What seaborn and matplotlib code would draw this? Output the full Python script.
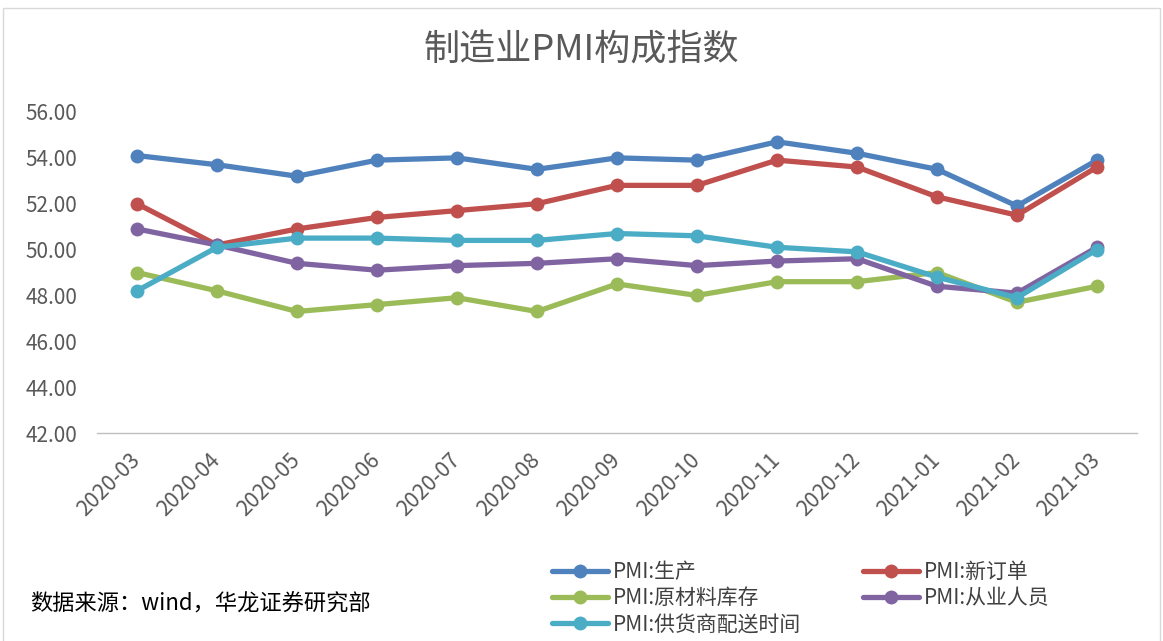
import matplotlib
matplotlib.use("Agg")
import matplotlib.pyplot as plt
import seaborn as sns
import pandas as pd
from matplotlib.patches import Rectangle
from matplotlib.lines import Line2D

months = ["2020-03", "2020-04", "2020-05", "2020-06", "2020-07", "2020-08", "2020-09",
          "2020-10", "2020-11", "2020-12", "2021-01", "2021-02", "2021-03"]
production = [54.1, 53.7, 53.2, 53.9, 54.0, 53.5, 54.0, 53.9, 54.7, 54.2, 53.5, 51.9, 53.9]
new_orders = [52.0, 50.2, 50.9, 51.4, 51.7, 52.0, 52.8, 52.8, 53.9, 53.6, 52.3, 51.5, 53.6]
raw_inventory = [49.0, 48.2, 47.3, 47.6, 47.9, 47.3, 48.5, 48.0, 48.6, 48.6, 49.0, 47.7, 48.4]
employment = [50.9, 50.2, 49.4, 49.1, 49.3, 49.4, 49.6, 49.3, 49.5, 49.6, 48.4, 48.1, 50.1]
delivery = [48.2, 50.1, 50.5, 50.5, 50.4, 50.4, 50.7, 50.6, 50.1, 49.9, 48.8, 47.9, 50.0]

series_names = ["PMI:生产", "PMI:新订单", "PMI:原材料库存", "PMI:从业人员", "PMI:供货商配送时间"]
series_values = [production, new_orders, raw_inventory, employment, delivery]
colors = ["#4F81BD", "#C0504D", "#9BBB59", "#8064A2", "#4BACC6"]

title = "制造业PMI构成指数"
source = "数据来源：wind，华龙证券研究部"

sns.set_theme(style="white")
plt.rcParams["font.family"] = ["Noto Sans CJK SC", "DejaVu Sans"]

rows = []
for name, vals in zip(series_names, series_values):
    for i, (m, v) in enumerate(zip(months, vals)):
        rows.append({"idx": i, "month": m, "value": v, "series": name})
df = pd.DataFrame(rows)

fig = plt.figure(figsize=(11.63, 6.41), dpi=100)
ax = fig.add_axes([97 / 1163, 1 - 433 / 641, (1137 - 97) / 1163, (433 - 112) / 641])

palette = dict(zip(series_names, colors))
sns.lineplot(data=df, x="idx", y="value", hue="series", hue_order=series_names,
             palette=palette, marker="o", markersize=10, markeredgewidth=0,
             linewidth=3.8, ax=ax, legend=False)

ax.set_xlim(-0.5, len(months) - 0.5)
ax.set_ylim(42, 56)
yt = [42, 44, 46, 48, 50, 52, 54, 56]
ax.set_yticks(yt)
ax.set_yticklabels([f"{v:.2f}" for v in yt], fontsize=15, color="#595959")
ax.set_xticks(range(len(months)))
ax.set_xticklabels(months, rotation=45, ha="right", va="center",
                   rotation_mode="anchor", fontsize=15.5, color="#595959")
ax.set_xticks([i - 0.5 for i in range(len(months) + 1)], minor=True)
ax.tick_params(axis="x", which="major", length=0, pad=17)
ax.tick_params(axis="x", which="minor", length=6, width=1, color="#BFBFBF", direction="out")
ax.tick_params(axis="y", length=0, pad=14)
ax.set_xlabel("")
ax.set_ylabel("")
for s in ["top", "right", "left"]:
    ax.spines[s].set_visible(False)
ax.spines["bottom"].set_color("#BFBFBF")
ax.spines["bottom"].set_linewidth(1)
ax.grid(False)

fig.text(0.5, 1 - 50 / 641, title, ha="center", va="center", fontsize=26,
         color="#595959", fontweight="light")
fig.text(30 / 1163, 1 - 604 / 641, source, ha="left", va="center", fontsize=16, color="#000000")

handles = [Line2D([], [], color=c, marker="o", markersize=10, markeredgewidth=0, linewidth=3.8)
           for c in colors]
order = [0, 2, 4, 1, 3]
leg = fig.legend([handles[i] for i in order], [series_names[i] for i in order],
                 ncol=2, loc="upper left", bbox_to_anchor=(552 / 1163, 1 - 561 / 641),
                 frameon=False, fontsize=15, handlelength=2.7, handletextpad=0.2,
                 columnspacing=3.0, labelspacing=0.2, borderaxespad=0, borderpad=0)
for t in leg.get_texts():
    t.set_color("#404040")

fig.patches.append(Rectangle((3 / 1163, -0.01), (1160 - 3) / 1163, 1.01 - 8 / 641,
                             transform=fig.transFigure, fill=False,
                             edgecolor="#D9D9D9", linewidth=1))

fig.savefig("out.png", dpi=100)
